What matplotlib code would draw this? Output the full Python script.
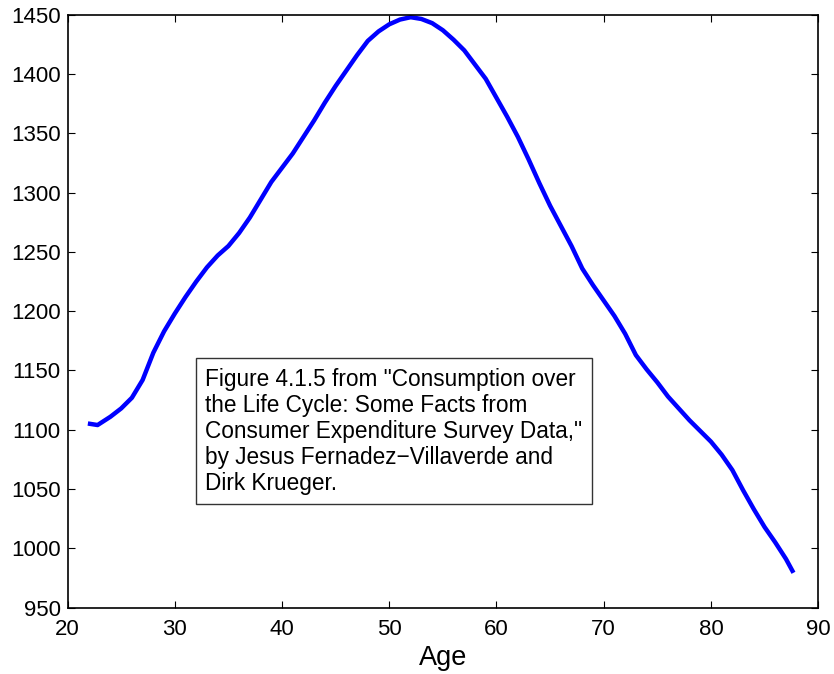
import matplotlib
matplotlib.use("Agg")
import matplotlib.pyplot as plt

# age profile of consumption
ages = [22.1, 22.8, 24, 25, 26, 27, 28, 29, 30, 31, 32, 33, 34, 35, 36, 37, 38,
        39, 40, 41, 42, 43, 44, 45, 46, 47, 48, 49, 50, 51, 52, 53, 54, 55, 56,
        57, 58, 59, 60, 61, 62, 63, 64, 65, 66, 67, 68, 69, 70, 71, 72, 73, 74,
        75, 76, 77, 78, 79, 80, 81, 82, 83, 84, 85, 86, 87, 87.6]
consumption = [1105, 1104, 1111, 1118, 1127, 1142, 1165, 1183, 1198, 1212, 1225,
               1237, 1247, 1255, 1266, 1279, 1294, 1309, 1321, 1333, 1347, 1361,
               1376, 1390, 1403, 1416, 1428, 1436, 1442, 1446, 1448, 1446.5, 1443,
               1437, 1429, 1420, 1408, 1396, 1380, 1364, 1347, 1328, 1308, 1289,
               1272, 1255, 1236, 1222, 1209, 1196, 1181, 1163, 1151, 1140, 1128,
               1118, 1108, 1099, 1090, 1079, 1066, 1049, 1033, 1018, 1005, 991, 981]

xticks = [20, 30, 40, 50, 60, 70, 80, 90]
yticks = [950, 1000, 1050, 1100, 1150, 1200, 1250, 1300, 1350, 1400, 1450]

note = ('Figure 4.1.5 from "Consumption over\n'
        'the Life Cycle: Some Facts from\n'
        'Consumer Expenditure Survey Data,"\n'
        'by Jesus Fernadez\u2212Villaverde and\n'
        'Dirk Krueger.')

plt.rcParams['font.family'] = ['Liberation Sans', 'DejaVu Sans']

fig = plt.figure(figsize=(8.34, 6.74), dpi=100)
ax = fig.add_axes([0.081, 0.0985, 0.9, 0.8795])

ax.plot(ages, consumption, color=(0, 0, 1), linewidth=3.2,
        solid_joinstyle='round')

ax.set_xlim(20, 90)
ax.set_ylim(950, 1450)
ax.set_xticks(xticks)
ax.set_yticks(yticks)
ax.tick_params(direction='in', length=5, width=0.8, top=True, right=True,
               labelsize=16)
ax.tick_params(axis='x', pad=8)
ax.tick_params(axis='y', pad=5)
for s in ax.spines.values():
    s.set_linewidth(1.2)

ax.set_xlabel('Age', fontsize=19.5, labelpad=4)

ax.text(32.85, 1098.7, note, fontsize=16.3, ha='left', va='center',
        linespacing=1.17,
        bbox=dict(boxstyle='square,pad=0.42', facecolor='white',
                  edgecolor='#333333', linewidth=1))

fig.savefig('out.png', dpi=100)
